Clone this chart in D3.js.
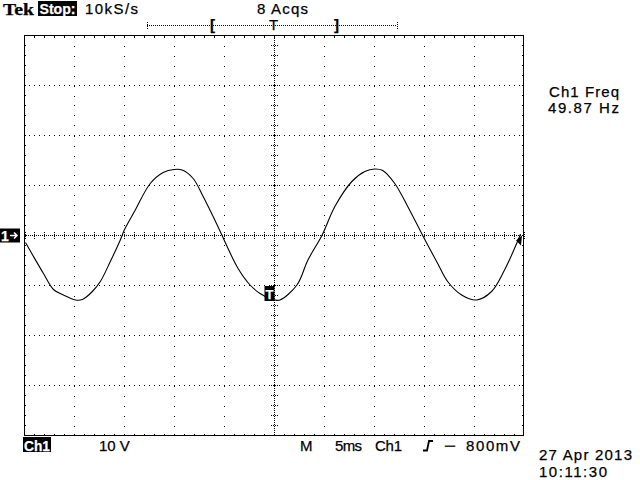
<!DOCTYPE html>
<html>
<head>
<meta charset="utf-8">
<script src="https://cdn.jsdelivr.net/npm/d3@7"></script>
<style>
  html, body { margin: 0; padding: 0; background: #fff; }
  #scope { width: 640px; height: 480px; }
  text { font-family: "Liberation Sans", Arial, sans-serif; font-size: 15px; fill: #000; stroke: #000; stroke-width: 0.25px; }
</style>
</head>
<body>
<div id="scope"></div>
<script>
// Ch1 trace, time in ms (0 = trigger), volts
const timeMs = [
  -24.9, -24.1, -23.1, -22.1, -21.1, -19.9, -19.2, -18.2, -17.4, -16.4,
  -15.4, -15.0, -13.9, -12.4, -11.1, -10.0, -9.2, -8.1, -7.1, -6.1,
  -5.2, -4.7, -3.6, -2.4, -1.4, -0.4, 0.1, 0.6, 2.3, 3.4,
  4.8, 6.1, 7.8, 9.1, 10.1, 10.9, 12.1, 13.4, 14.9, 16.4,
  17.4, 18.8, 20.3, 21.8, 23.1, 24.4, 24.7
];
const ch1Volts = [
  -1.4, -4.2, -7.6, -10.8, -11.9, -12.9, -12.8, -11.2, -9.2, -5.2,
  -0.9, 1.1, 5.1, 10.4, 12.6, 13.2, 13.1, 11.4, 7.8, 3.8,
  0.0, -2.2, -6.6, -9.9, -11.6, -12.6, -12.9, -12.9, -9.9, -4.9,
  0.0, 5.8, 10.8, 12.8, 13.3, 13.0, 10.4, 5.8, 0.0, -5.6,
  -9.2, -11.9, -12.9, -11.2, -6.9, -1.2, 0.3
];

// screen settings
const timeDomain = [-25, 25];   // 5 ms/div, 10 div
const voltDomain = [-40, 40];   // 10 V/div, 8 div
const timeDivs = d3.range(-25, 26, 5);
const voltDivs = d3.range(-40, 41, 10);
const timeMinor = d3.range(-25, 25.01, 1);
const voltMinor = d3.range(-40, 40.01, 2);

const topLine = ["Stop:", "10kS/s", "8 Acqs"];
const measLabel = ["Ch1 Freq", "49.87 Hz"];
const bottomLine = ["Ch1", "10 V", "M", "5ms", "Ch1", "−", "800mV"];
const dateLines = ["27 Apr 2013", "10:11:30"];

const width = 640, height = 480;
const gLeft = 24, gRight = 524, gTop = 35.5, gBottom = 435.5;

const svg = d3.select("#scope").append("svg")
  .attr("width", width)
  .attr("height", height);

svg.append("rect").attr("width", width).attr("height", height).attr("fill", "#fff");

const x = d3.scaleLinear().domain(timeDomain).range([gLeft + 0.5, gRight - 0.5]);
const y = d3.scaleLinear().domain(voltDomain).range([gBottom, gTop]);
const px = (d) => Math.round(x(d)) + 0.5;

// helper for the screen labels, stretched to the width they take on the scope
function label(str, lx, ly, len) {
  const t = svg.append("text").attr("x", lx).attr("y", ly).text(str);
  if (len) t.attr("textLength", len).attr("lengthAdjust", "spacing");
  return t;
}

const grid = svg.append("g")
  .attr("stroke", "#000")
  .attr("shape-rendering", "crispEdges");

// dotted graticule lines
grid.selectAll("line.vgrid")
  .data(timeDivs.slice(1, -1).filter((d) => d !== 0))
  .enter().append("line")
  .attr("class", "vgrid")
  .attr("x1", px).attr("x2", px)
  .attr("y1", gTop).attr("y2", gBottom)
  .attr("stroke-dasharray", "1,9");

grid.selectAll("line.hgrid")
  .data(voltDivs.slice(1, -1).filter((d) => d !== 0))
  .enter().append("line")
  .attr("class", "hgrid")
  .attr("x1", gLeft).attr("x2", gRight)
  .attr("y1", (d) => y(d)).attr("y2", (d) => y(d))
  .attr("stroke-dasharray", "1,4");

// centre axes, denser dots
const cx = px(0), cy = y(0);
grid.append("line")
  .attr("x1", gLeft).attr("x2", gRight).attr("y1", cy).attr("y2", cy)
  .attr("stroke-dasharray", "1,1");
grid.append("line")
  .attr("x1", cx).attr("x2", cx).attr("y1", gTop).attr("y2", gBottom)
  .attr("stroke-dasharray", "1,1");

// minor ticks on the centre axes
grid.selectAll("line.tx")
  .data(timeMinor.filter((d) => d !== 0))
  .enter().append("line")
  .attr("x1", px).attr("x2", px)
  .attr("y1", cy - 3.5).attr("y2", cy + 3.5)
  .attr("stroke-dasharray", "1,1");
grid.selectAll("line.ty")
  .data(voltMinor.filter((d) => d !== 0))
  .enter().append("line")
  .attr("x1", cx - 3.5).attr("x2", cx + 3.5)
  .attr("y1", (d) => y(d)).attr("y2", (d) => y(d))
  .attr("stroke-dasharray", "1,1");

// ticks on the border
grid.selectAll("line.bt")
  .data(timeMinor.slice(1, -1))
  .enter().append("line")
  .attr("x1", px).attr("x2", px)
  .attr("y1", gTop).attr("y2", gTop + 2);
grid.selectAll("line.bb")
  .data(timeMinor.slice(1, -1))
  .enter().append("line")
  .attr("x1", px).attr("x2", px)
  .attr("y1", gBottom - 2).attr("y2", gBottom);
grid.selectAll("line.bl")
  .data(voltMinor.slice(1, -1))
  .enter().append("line")
  .attr("x1", gLeft).attr("x2", gLeft + 2)
  .attr("y1", (d) => y(d)).attr("y2", (d) => y(d));
grid.selectAll("line.br")
  .data(voltMinor.slice(1, -1))
  .enter().append("line")
  .attr("x1", gRight - 2).attr("x2", gRight)
  .attr("y1", (d) => y(d)).attr("y2", (d) => y(d));

grid.append("rect")
  .attr("x", gLeft + 0.5).attr("y", gTop)
  .attr("width", gRight - gLeft - 1).attr("height", gBottom - gTop)
  .attr("fill", "none");

// the trace
const trace = timeMs.map((t, i) => [t, ch1Volts[i]]);
svg.append("path")
  .datum(trace)
  .attr("fill", "none")
  .attr("stroke", "#000")
  .attr("stroke-width", 1.1)
  .attr("d", d3.line().x((d) => x(d[0])).y((d) => y(d[1])).curve(d3.curveCatmullRom.alpha(0.5)));

// trigger point marker on the trace
svg.append("rect").attr("x", cx - 10).attr("y", 286).attr("width", 10).attr("height", 15).attr("fill", "#000");
svg.append("text").attr("x", cx - 5).attr("y", 298.5).attr("text-anchor", "middle")
  .style("fill", "#fff").style("stroke", "#fff").style("font-weight", "bold").style("font-size", "13px").text("T");

// trigger level arrow at right edge (-800 mV)
svg.append("path")
  .attr("d", `M${gRight - 2},${y(-0.8) - 4} L${gRight - 8},${y(-0.8) + 1} L${gRight - 3},${y(-0.8) + 6} Z`)
  .attr("fill", "#000");

// channel 1 ground marker
svg.append("rect").attr("x", 0).attr("y", cy - 7).attr("width", 20).attr("height", 14).attr("fill", "#000");
svg.append("text").attr("x", 1).attr("y", cy + 5.5)
  .style("fill", "#fff").style("stroke", "#fff").style("font-weight", "bold").style("font-size", "14px").text("1");
svg.append("path")
  .attr("d", `M10,${cy} L17,${cy} M14,${cy - 3} L17,${cy} L14,${cy + 3}`)
  .attr("fill", "none").attr("stroke", "#fff").attr("stroke-width", 1.6);

// header
svg.append("text").attr("x", 3).attr("y", 15)
  .style("font-family", "'Liberation Serif', serif").style("font-weight", "bold")
  .style("font-size", "16px").attr("textLength", 31).attr("lengthAdjust", "spacingAndGlyphs").text("Tek");
svg.append("rect").attr("x", 38).attr("y", 1).attr("width", 39).attr("height", 15).attr("fill", "#000");
svg.append("text").attr("x", 39.5).attr("y", 14)
  .attr("textLength", 36).attr("lengthAdjust", "spacingAndGlyphs")
  .style("fill", "#fff").style("stroke", "#fff").style("font-weight", "bold").text(topLine[0]);
label(topLine[1], 85, 14, 53);
label(topLine[2], 257, 14, 51);

// trigger position bar
const bar = svg.append("g").attr("stroke", "#000").attr("shape-rendering", "crispEdges");
bar.append("line").attr("x1", 147).attr("x2", 397).attr("y1", 25.5).attr("y2", 25.5).attr("stroke-dasharray", "1,1");
bar.append("line").attr("x1", 147.5).attr("x2", 147.5).attr("y1", 22).attr("y2", 29).attr("stroke-dasharray", "1,1");
bar.append("line").attr("x1", 397.5).attr("x2", 397.5).attr("y1", 22).attr("y2", 29).attr("stroke-dasharray", "1,1");
svg.append("text").attr("x", 210).attr("y", 30).style("font-weight", "bold").text("[");
svg.append("text").attr("x", cx - 1).attr("y", 30).attr("text-anchor", "middle").text("T");
svg.append("text").attr("x", 334).attr("y", 30).style("font-weight", "bold").text("]");

// measurement
label(measLabel[0], 549, 97, 70);
label(measLabel[1], 548, 113, 71);

// footer
svg.append("rect").attr("x", 23).attr("y", 437).attr("width", 28).attr("height", 15).attr("fill", "#000");
svg.append("text").attr("x", 24).attr("y", 450.5)
  .attr("textLength", 26).attr("lengthAdjust", "spacingAndGlyphs")
  .style("fill", "#fff").style("stroke", "#fff").style("font-weight", "bold").text(bottomLine[0]);
label(bottomLine[1], 99, 451);
label(bottomLine[2], 300, 451);
label(bottomLine[3], 335, 451, 27);
label(bottomLine[4], 375, 451, 27);
svg.append("path")
  .attr("d", "M423,450.5 L427,450.5 L429,441 L433,441")
  .attr("fill", "none").attr("stroke", "#000").attr("stroke-width", 1.8);
const trig = svg.append("text").attr("y", 451);
trig.append("tspan").attr("x", 444).attr("textLength", 12).attr("lengthAdjust", "spacingAndGlyphs").text(bottomLine[5]);
trig.append("tspan").attr("x", 466).attr("textLength", 54).attr("lengthAdjust", "spacing").text(bottomLine[6]);

label(dateLines[0], 539, 460, 93);
label(dateLines[1], 539, 476.5, 68);
</script>
</body>
</html>
